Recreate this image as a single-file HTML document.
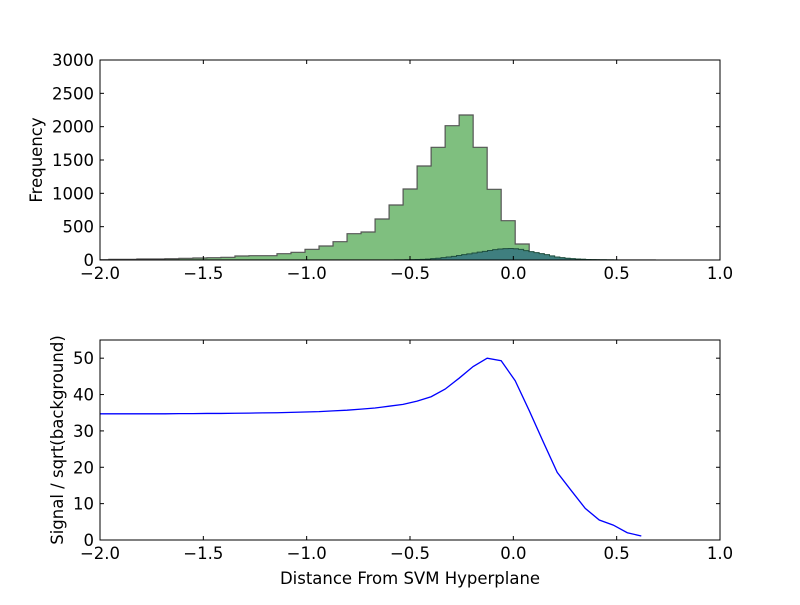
<!DOCTYPE html>
<html><head><meta charset="utf-8"><style>
body{margin:0;background:#fff;}
svg text{font-family:"DejaVu Sans","Liberation Sans",sans-serif;font-size:16.5px;fill:#000;}
</style></head><body>
<svg id="chart" width="800" height="600" xmlns="http://www.w3.org/2000/svg">
<defs>
<clipPath id="c1"><rect x="100" y="60" width="620" height="200"/></clipPath>
<clipPath id="c2"><rect x="100" y="340" width="620" height="200"/></clipPath>
</defs>
<g id="topPanel"></g>
<g id="botPanel"></g>
</svg>
<script>
const bgBinStart = -2.025;
const bgBinWidth = 0.0678;
const bgCounts = [5,10,10,15,15,20,25,30,35,40,60,65,65,95,115,160,210,275,395,420,615,825,1065,1410,1690,2015,2175,1690,1060,590,240,60,30,15,8,4,2,1,1,1];
const sigBinStart = -0.6;
const sigBinWidth = 0.025;
const sigCounts = [0,1,2,3,5,7,10,14,20,27,35,45,55,67,80,92,105,118,130,142,155,165,170,172,168,160,140,125,110,95,80,62,45,35,26,20,15,11,8,6,4,3,2,1];
const curveX0 = -2.025;
const curveStep = 0.0678;
const curveValues = [34.7,34.7,34.7,34.7,34.7,34.7,34.75,34.75,34.8,34.8,34.85,34.9,34.95,35.0,35.1,35.2,35.3,35.5,35.7,36.0,36.3,36.8,37.3,38.2,39.4,41.5,44.5,47.7,50.0,49.3,43.8,35.6,27,18.6,13.6,8.7,5.5,4.1,2.0,1.1];
const xTicks = [-2.0,-1.5,-1.0,-0.5,0.0,0.5,1.0];
const xTickLabels = ["\u22122.0","\u22121.5","\u22121.0","\u22120.5","0.0","0.5","1.0"];
const yTicksTop = [0,500,1000,1500,2000,2500,3000];
const yTicksBot = [0,10,20,30,40,50];

const NS="http://www.w3.org/2000/svg";
const X=v=>100+(v+2)*620/3;
const Yt=v=>260-v*200/3000;
const Yb=v=>540-v*200/55;
function mk(p,tag,at){const e=document.createElementNS(NS,tag);for(const k in at)e.setAttribute(k,at[k]);p.appendChild(e);return e;}
function stepPath(start,w,counts,Y){let d="M"+X(start)+","+Y(0);counts.forEach((c,i)=>{d+=" L"+X(start+i*w)+","+Y(c)+" L"+X(start+(i+1)*w)+","+Y(c);});d+=" L"+X(start+counts.length*w)+","+Y(0)+" Z";return d;}
const topG=document.getElementById('topPanel'), botG=document.getElementById('botPanel');
let el;
el=mk(topG,'path',{d:stepPath(bgBinStart,bgBinWidth,bgCounts,Yt),fill:'#7fbf7f',stroke:'#555','stroke-width':1.2,'clip-path':'url(#c1)'});


el=mk(topG,'path',{d:stepPath(sigBinStart,sigBinWidth,sigCounts,Yt),fill:'#3f7f7f',stroke:'#1f4f3f','stroke-width':1,'clip-path':'url(#c1)'});


let dd="";curveValues.forEach((v,i)=>{dd+=(i?" L":"M")+X(curveX0+i*curveStep)+","+Yb(v);});
el=mk(botG,'path',{d:dd,fill:'none',stroke:'#0000ff','stroke-width':1.3,'clip-path':'url(#c2)'});


function axes(g,y0,y1,yt,Y,name){
  el=mk(g,'rect',{x:100,y:y0,width:620,height:y1-y0,fill:'none',stroke:'#000','stroke-width':1});
  
  
  xTicks.forEach((t,i)=>{
    mk(g,'line',{x1:X(t),x2:X(t),y1:y1,y2:y1-4,stroke:'#000'});
    mk(g,'line',{x1:X(t),x2:X(t),y1:y0,y2:y0+4,stroke:'#000'});
    el=mk(g,'text',{x:X(t),y:y1+19,'text-anchor':'middle'});el.textContent=xTickLabels[i];
    
    
  });
  yt.forEach(t=>{
    mk(g,'line',{x1:100,x2:104,y1:Y(t),y2:Y(t),stroke:'#000'});
    mk(g,'line',{x1:720,x2:716,y1:Y(t),y2:Y(t),stroke:'#000'});
    el=mk(g,'text',{x:94,y:Y(t)+6,'text-anchor':'end'});el.textContent=t;
    
    
  });
}
axes(topG,60,260,yTicksTop,Yt,'top');
axes(botG,340,540,yTicksBot,Yb,'bottom');
el=mk(topG,'text',{x:0,y:0,'text-anchor':'middle',transform:'translate(42,160) rotate(-90)'});el.textContent='Frequency';


el=mk(botG,'text',{x:0,y:0,'text-anchor':'middle',transform:'translate(63,440) rotate(-90)'});el.textContent='Signal / sqrt(background)';


el=mk(botG,'text',{x:410,y:584,'text-anchor':'middle'});el.textContent='Distance From SVM Hyperplane';


</script>
</body></html>
